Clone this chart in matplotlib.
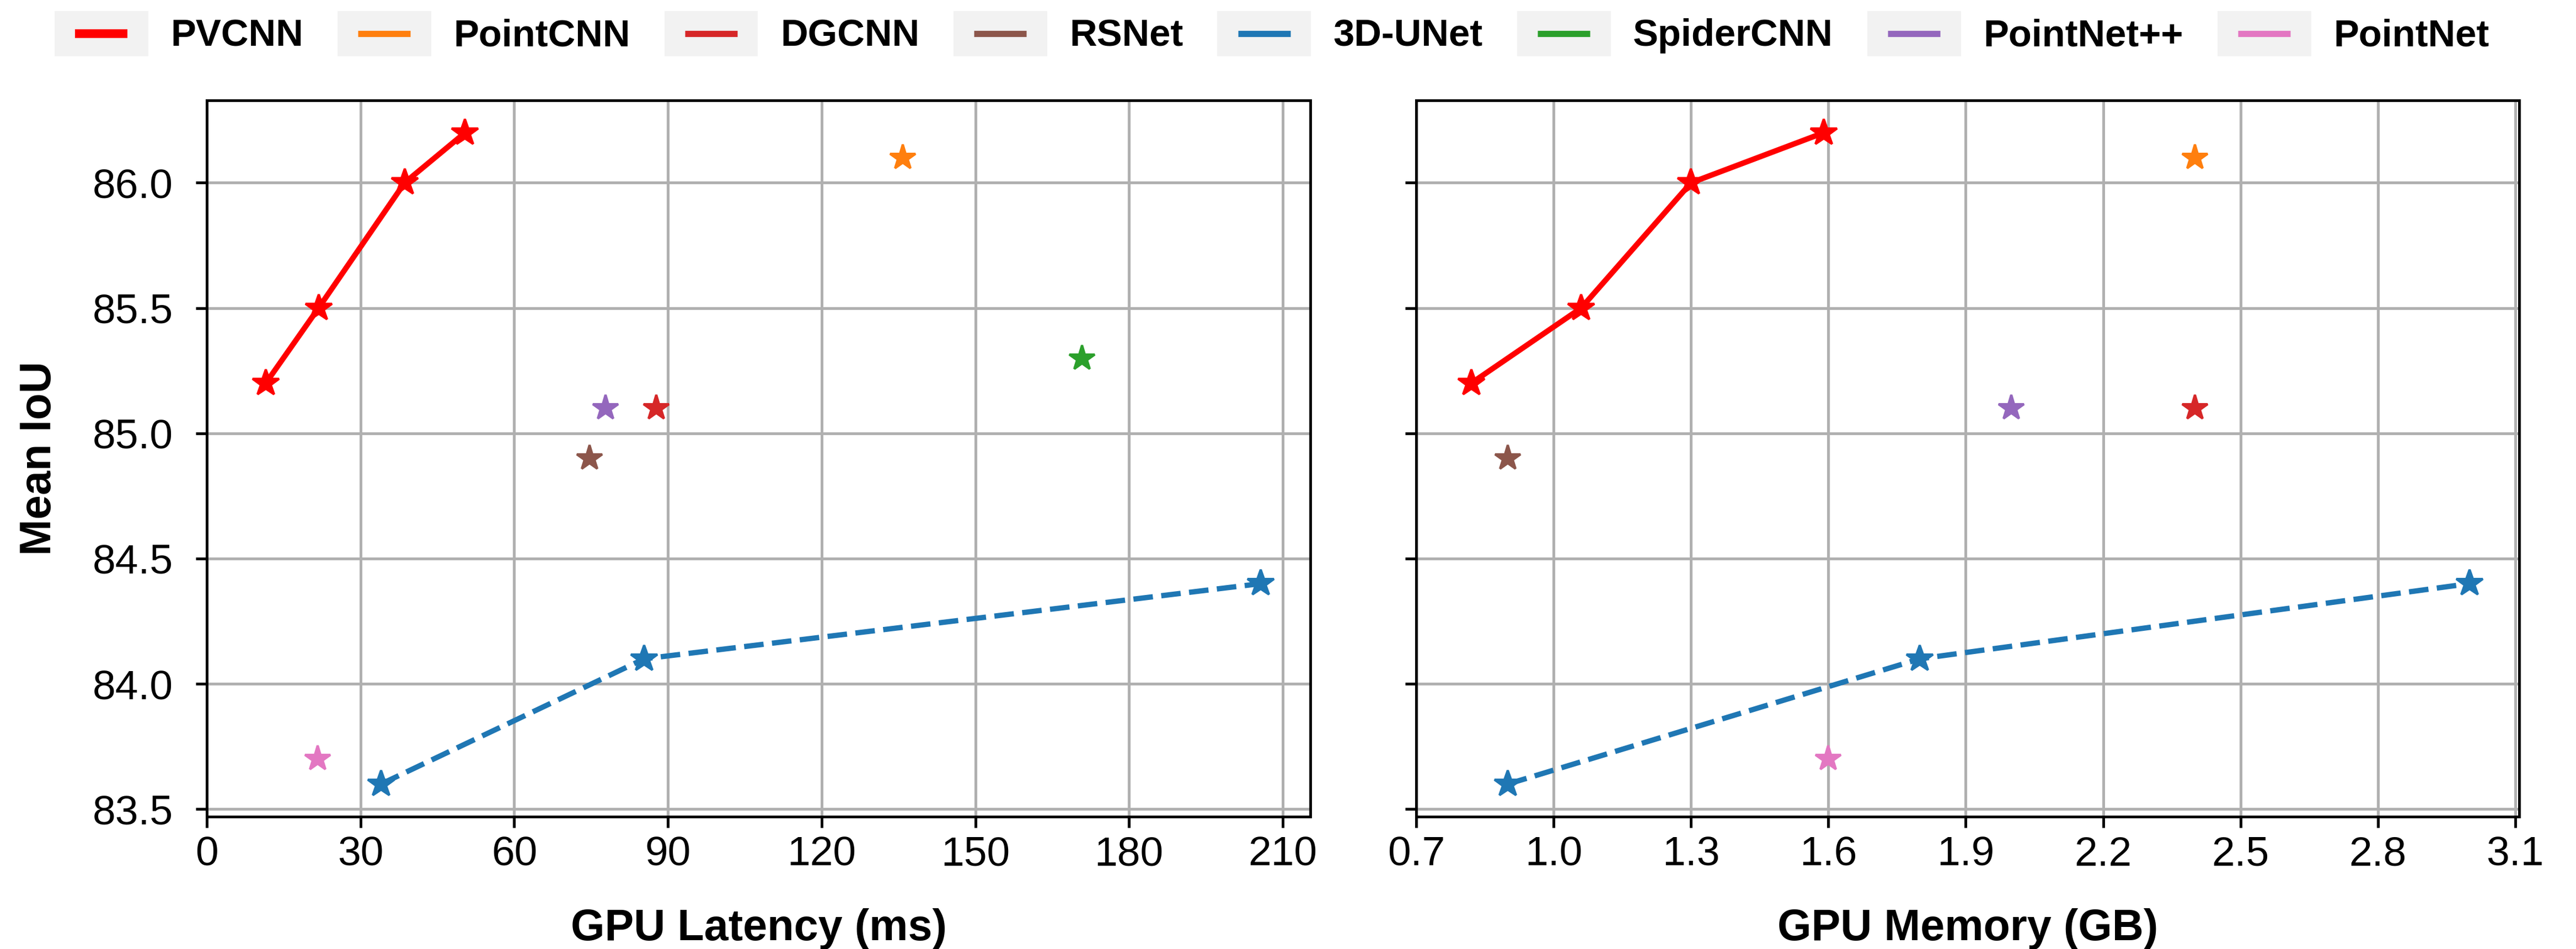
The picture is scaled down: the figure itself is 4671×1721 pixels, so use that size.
import numpy as np
import matplotlib
matplotlib.use("Agg")
from matplotlib import pyplot as plt
from matplotlib.legend_handler import HandlerBase
from matplotlib.lines import Line2D
from matplotlib.patches import Rectangle

plt.rcParams['font.family'] = ['Liberation Sans', 'DejaVu Sans']

# PVCNN and 3D-UNet are drawn as curves, the rest as single points
pvcnn_latency = [11.5, 21.8, 38.6, 50.4]
pvcnn_memory = [0.82, 1.06, 1.30, 1.59]
pvcnn_miou = [85.2, 85.5, 86.0, 86.2]

unet_latency = [34.0, 85.4, 205.7]
unet_memory = [0.9, 1.8, 3.0]
unet_miou = [83.6, 84.1, 84.4]

other_names = ['PointCNN', 'DGCNN', 'RSNet', 'SpiderCNN', 'PointNet++', 'PointNet']
other_colors = ['#ff7f0e', '#d62728', '#8c564b', '#2ca02c', '#9467bd', '#e377c2']
other_latency = [135.8, 87.7, 74.7, 170.8, 77.8, 21.6]
other_memory = [2.4, 2.4, 0.9, None, 2.0, 1.6]   # SpiderCNN has no memory number
other_miou = [86.1, 85.1, 84.9, 85.3, 85.1, 83.7]

legend_names = ['PVCNN', 'PointCNN', 'DGCNN', 'RSNet', '3D-UNet', 'SpiderCNN', 'PointNet++', 'PointNet']
legend_colors = ['#ff0000', '#ff7f0e', '#d62728', '#8c564b', '#1f77b4', '#2ca02c', '#9467bd', '#e377c2']

latency_ticks = [0, 30, 60, 90, 120, 150, 180, 210]
memory_ticks = [0.7, 1.0, 1.3, 1.6, 1.9, 2.2, 2.5, 2.8, 3.1]
miou_ticks = [83.5, 84.0, 84.5, 85.0, 85.5, 86.0]


class BoxLineHandler(HandlerBase):
    # grey box with a short colored bar in the middle
    def create_artists(self, legend, orig_handle, xdescent, ydescent, width, height, fontsize, trans):
        box = Rectangle((-xdescent, -ydescent), width, height, facecolor='#f2f2f2',
                        edgecolor='none', transform=trans)
        y = -ydescent + height / 2
        line = Line2D([-xdescent + 0.22 * width, -xdescent + 0.78 * width], [y, y],
                      color=orig_handle.get_color(), lw=orig_handle.get_linewidth(),
                      solid_capstyle='butt', transform=trans)
        return [box, line]


def draw_panel(ax, pvcnn_x, unet_x, other_x, xticks, xlabel, xmin):
    ax.plot(pvcnn_x, pvcnn_miou, color='#ff0000', lw=2.4, marker='*', ms=12, zorder=3)
    ax.plot(unet_x, unet_miou, color='#1f77b4', lw=2.3, ls='--', marker='*', ms=12, zorder=3)
    for x, y, c in zip(other_x, other_miou, other_colors):
        if x is None:
            continue
        ax.plot([x], [y], color=c, marker='*', ms=11.5, ls='none', zorder=3)
    ax.set_xticks(xticks)
    ax.set_xlim(left=xmin)
    ax.set_xlabel(xlabel, fontsize=19, fontweight='bold', labelpad=15)
    ax.grid(True, color='#b0b0b0', lw=1.2)
    ax.set_axisbelow(True)
    for s in ax.spines.values():
        s.set_linewidth(1.2)
        s.set_color('black')
    ax.tick_params(axis='both', labelsize=18, length=4.8, width=1.2)
    ax.tick_params(axis='y', pad=10)


fig = plt.figure(figsize=(4671 / 300, 1721 / 300), dpi=300)
ax1 = fig.add_axes([0.0803, 0.1395, 0.4284, 0.755])
ax2 = fig.add_axes([0.5498, 0.1395, 0.4282, 0.755], sharey=ax1)

draw_panel(ax1, pvcnn_latency, unet_latency, other_latency, latency_ticks, 'GPU Latency (ms)', 0)
draw_panel(ax2, pvcnn_memory, unet_memory, other_memory, memory_ticks, 'GPU Memory (GB)', 0.7)
ax1.set_yticks(miou_ticks)
ax1.set_ylabel('Mean IoU', fontsize=19, fontweight='bold', labelpad=14)
plt.setp(ax2.get_yticklabels(), visible=False)

handles = []
for name, c in zip(legend_names, legend_colors):
    lw = 3.8 if name == 'PVCNN' else 2.7
    handles.append(Line2D([], [], color=c, lw=lw))
fig.legend(handles, legend_names, loc='center', bbox_to_anchor=(0.4937, 0.9648), ncol=8,
           frameon=False, borderpad=0, handlelength=2.47, handleheight=1.46,
           handletextpad=0.59, columnspacing=0.9,
           prop={'size': 16.5, 'weight': 'bold'},
           handler_map={Line2D: BoxLineHandler()})

fig.savefig('out.png', dpi=300)
